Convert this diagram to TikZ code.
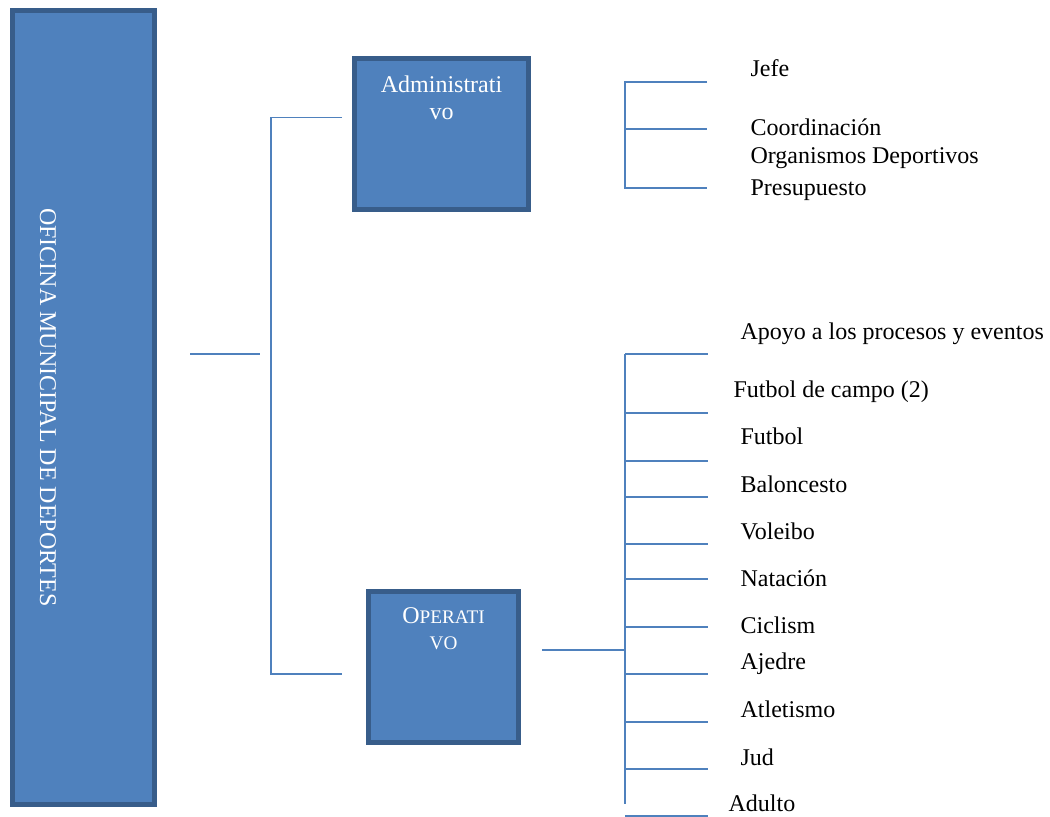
\documentclass[tikz,border=0pt]{standalone}
\usepackage{fontspec}
\setmainfont{Liberation Serif}
\usetikzlibrary{positioning,calc}
\definecolor{boxfill}{HTML}{4F81BD}
\definecolor{boxedge}{HTML}{385D8A}

\begin{document}
\begin{tikzpicture}[x=0.5pt,y=-0.5pt,semithick]
		  \tikzstyle{unit}=[rectangle,fill=boxfill,draw=boxedge,line width=2.5pt,inner sep=0pt]
		  \tikzstyle{unittext}=[text=white,inner sep=0pt,align=center]
		  \tikzstyle{item}=[anchor=base west,inner sep=0pt,font=\fontsize{12}{13.5}\selectfont]
		  \tikzstyle{branch}=[draw=boxfill,line width=0.9pt]
		  \useasboundingbox (0,0) rectangle (1050,817);

		  % boxes
		  \node[unit,minimum width=71pt,minimum height=397pt] (oficina) at (83.5,407.5) {};
		  \node[unittext,rotate=-90,anchor=base,font=\fontsize{12}{13.5}\selectfont] (titulo) at (40,407.5) {OFICINA MUNICIPAL DE DEPORTES};
		  \node[unit,minimum width=87pt,minimum height=75.75pt,
		    label={[unittext,anchor=north,yshift=-9.5pt,font=\fontsize{12}{13.5}\selectfont]north:Administrati\\vo}] (adm) at (441.5,134.25) {};
		  \node[unit,minimum width=75pt,minimum height=75.5pt,
		    label={[unittext,anchor=north,yshift=-9.1pt,font=\fontsize{12}{13}\selectfont]north:O{\fontsize{9.6}{13}\selectfont PERATI}\\{\fontsize{9.6}{13}\selectfont VO}}] (op) at (443.5,667) {};

		  % administrativo
		  \node[item] (jefe) at (750,77) {Jefe};
		  \node[item] (coord) at (750,136) {Coordinación};
		  \node[item] (organismos) at (750,164) {Organismos Deportivos};
		  \node[item] (presupuesto) at (750,196) {Presupuesto};

		  % operativo
		  \node[item] (apoyo) at (740,340) {Apoyo a los procesos y eventos};
		  \node[item] (campo) at (733,398) {Futbol de campo (2)};
		  \node[item] (futbol) at (740,445) {Futbol};
		  \node[item] (baloncesto) at (740,493) {Baloncesto};
		  \node[item] (voleibo) at (740,540) {Voleibo};
		  \node[item] (natacion) at (740,587) {Natación};
		  \node[item] (ciclism) at (740,634) {Ciclism};
		  \node[item] (ajedre) at (740,670) {Ajedre};
		  \node[item] (atletismo) at (740,718) {Atletismo};
		  \node[item] (jud) at (740,765) {Jud};
		  \node[item] (adulto) at (728,812) {Adulto};

		  % main bracket
		  \coordinate (m1) at (190,354);
		  \coordinate (m2) at (260,354);
		  \coordinate (t1) at (271,117.5);
		  \coordinate (t2) at (271,674);
		  \coordinate (tadm) at (342,117.5);
		  \coordinate (top) at (342,674);
		  \draw[branch] (m1) -- (m2);
		  \draw[branch] (tadm) -- (t1) -- (t2) -- (top);

		  % administrativo bracket
		  \coordinate (a1) at (707,82);
		  \coordinate (a2) at (707,129);
		  \coordinate (a3) at (707,188);
		  \coordinate (av) at (625,82);
		  \draw[branch] (a1) -- (av) -- (av |- a3) -- (a3);
		  \draw[branch] (av |- a2) -- (a2);

		  % operativo bracket
		  \coordinate (o1) at (542,650);
		  \coordinate (o2) at (625,650);
		  \coordinate (ov1) at (625,354);
		  \coordinate (ov2) at (625,804);
		  \draw[branch] (o1) -- (o2);
		  \draw[branch] (ov1) -- (ov2);
		  \coordinate (b1) at (708,354);
		  \coordinate (b2) at (708,413);
		  \coordinate (b3) at (708,461);
		  \coordinate (b4) at (708,497);
		  \coordinate (b5) at (708,544);
		  \coordinate (b6) at (708,579);
		  \coordinate (b7) at (708,627);
		  \coordinate (b8) at (708,674);
		  \coordinate (b9) at (708,722);
		  \coordinate (b10) at (708,769);
		  \coordinate (b11) at (708,816);
		  \draw[branch] (b1 -| ov1) -- (b1);
		  \draw[branch] (b2 -| ov1) -- (b2);
		  \draw[branch] (b3 -| ov1) -- (b3);
		  \draw[branch] (b4 -| ov1) -- (b4);
		  \draw[branch] (b5 -| ov1) -- (b5);
		  \draw[branch] (b6 -| ov1) -- (b6);
		  \draw[branch] (b7 -| ov1) -- (b7);
		  \draw[branch] (b8 -| ov1) -- (b8);
		  \draw[branch] (b9 -| ov1) -- (b9);
		  \draw[branch] (b10 -| ov1) -- (b10);
		  \draw[branch] (b11 -| ov1) -- (b11);
		\end{tikzpicture}
\end{document}
